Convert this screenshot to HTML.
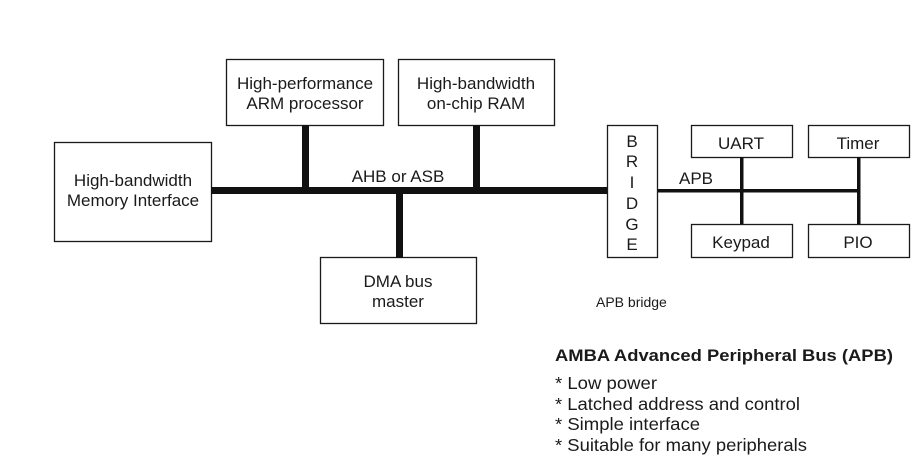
<!DOCTYPE html>
<html><head><meta charset="utf-8"><style>
html,body{margin:0;padding:0;background:#fff;}
svg{display:block;}
text{font-family:"Liberation Sans",Arial,sans-serif;fill:#1a1a1a;}
</style></head><body>
<svg width="919" height="462" viewBox="0 0 919 462" xmlns="http://www.w3.org/2000/svg">
<g fill="none" stroke="#1a1a1a" stroke-width="1.3">
<rect x="54.5" y="142.5" width="157" height="99"/>
<rect x="226.5" y="59.5" width="157" height="66"/>
<rect x="398.5" y="59.5" width="156" height="66"/>
<rect x="320.5" y="257.5" width="156" height="66"/>
<rect x="607.5" y="125.5" width="50" height="132"/>
<rect x="691.5" y="125.5" width="101" height="32"/>
<rect x="808.5" y="125.5" width="101" height="32"/>
<rect x="691.5" y="224.5" width="101" height="33"/>
<rect x="808.5" y="224.5" width="101" height="33"/>
</g>
<g fill="#111">
<rect x="211" y="187" width="396" height="7"/>
<rect x="302" y="125" width="7" height="64"/>
<rect x="473" y="125" width="7" height="64"/>
<rect x="396" y="192" width="7" height="66"/>
<rect x="658" y="189" width="201" height="3.5"/>
<rect x="740" y="157" width="3.5" height="67"/>
<rect x="857" y="157" width="3.5" height="67"/>
</g>
<g font-size="17" text-anchor="middle">
<text x="133" y="186">High-bandwidth</text>
<text x="133" y="206">Memory Interface</text>
<text x="305" y="89">High-performance</text>
<text x="305" y="109">ARM processor</text>
<text x="476" y="89">High-bandwidth</text>
<text x="476" y="109">on-chip RAM</text>
<text x="398" y="287">DMA bus</text>
<text x="398" y="307">master</text>
<text x="398" y="182">AHB or ASB</text>
<text x="741" y="149">UART</text>
<text x="858" y="149">Timer</text>
<text x="741" y="248">Keypad</text>
<text x="858" y="248">PIO</text>
<text x="632" y="147">B</text>
<text x="632" y="167">R</text>
<text x="632" y="188">I</text>
<text x="632" y="209">D</text>
<text x="632" y="230">G</text>
<text x="632" y="250">E</text>
<text x="696" y="184">APB</text>
</g>
<text x="596" y="307" font-size="14">APB bridge</text>
<text x="555" y="361" font-size="17" font-weight="bold" textLength="338" lengthAdjust="spacingAndGlyphs">AMBA Advanced Peripheral Bus (APB)</text>
<g font-size="17.5">
<text x="555" y="389" textLength="102" lengthAdjust="spacingAndGlyphs">* Low power</text>
<text x="555" y="410" textLength="245" lengthAdjust="spacingAndGlyphs">* Latched address and control</text>
<text x="555" y="430" textLength="145" lengthAdjust="spacingAndGlyphs">* Simple interface</text>
<text x="555" y="451" textLength="252" lengthAdjust="spacingAndGlyphs">* Suitable for many peripherals</text>
</g>
</svg>
</body></html>
